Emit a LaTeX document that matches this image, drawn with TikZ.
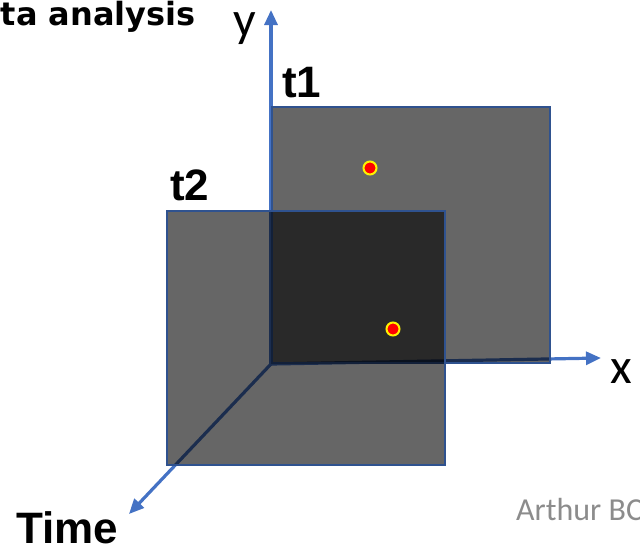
\documentclass[tikz,border=0pt]{standalone}
\usepackage{fontspec}
\setmainfont{Liberation Sans}
\newfontfamily\calib{Carlito}
\newfontfamily\dejav{DejaVu Sans}
\usetikzlibrary{arrows.meta}
\definecolor{axisblue}{HTML}{4472C4}
\definecolor{edgeblue}{HTML}{2F528F}
\begin{document}
\begin{tikzpicture}[x=1pt,y=-1pt,
  axis/.style={axisblue,line width=3.2pt,-{Triangle[length=15pt,width=13pt]}},
  frame/.style={fill=black,fill opacity=0.6,draw=edgeblue,draw opacity=1,line width=2pt},
  point/.style={circle,fill=red,draw=yellow,line width=2pt,minimum size=13pt,inner sep=0pt},
  lbl/.style={inner sep=0pt,font=\fontsize{44}{44}\selectfont\bfseries},
  axl/.style={inner sep=0pt,font=\calib\fontsize{50}{50}\selectfont}]
\useasboundingbox (0,0) rectangle (640,555);
\clip (0,0) rectangle (640,555);
\coordinate (o) at (271,364);
\coordinate (ytip) at (271,10);
\coordinate (xtip) at (601,358);
\coordinate (ttip) at (129,514);
\draw[axis] (o) -- (ytip);
\draw[axis] (o) -- (xtip);
\draw[axis] (o) -- (ttip);
\path[frame] (272,107) rectangle (550,363);
\path[frame] (167,211) rectangle (445,465);
\node[point] (p1) at (370,168) {};
\node[point] (p2) at (393,329) {};
\node[lbl,anchor=base west] (t1) at (282,97) {t1};
\node[lbl,anchor=base west] (t2) at (170,200) {t2};
\node[lbl,anchor=base west] (time) at (16,543) {Time};
\node[axl,anchor=base] (ylab) at (245,36) {y};
\node[axl,anchor=base] (xlab) at (621,383) {x};
\node[inner sep=0pt,anchor=base east,font=\dejav\bfseries\fontsize{32}{32}\selectfont] (title) at (196,25) {ta analysis};
\node[inner sep=0pt,anchor=base west,text=gray!90,font=\calib\fontsize{32}{32}\selectfont] (auth) at (516,520) {Arthur BC};
\end{tikzpicture}
\end{document}
